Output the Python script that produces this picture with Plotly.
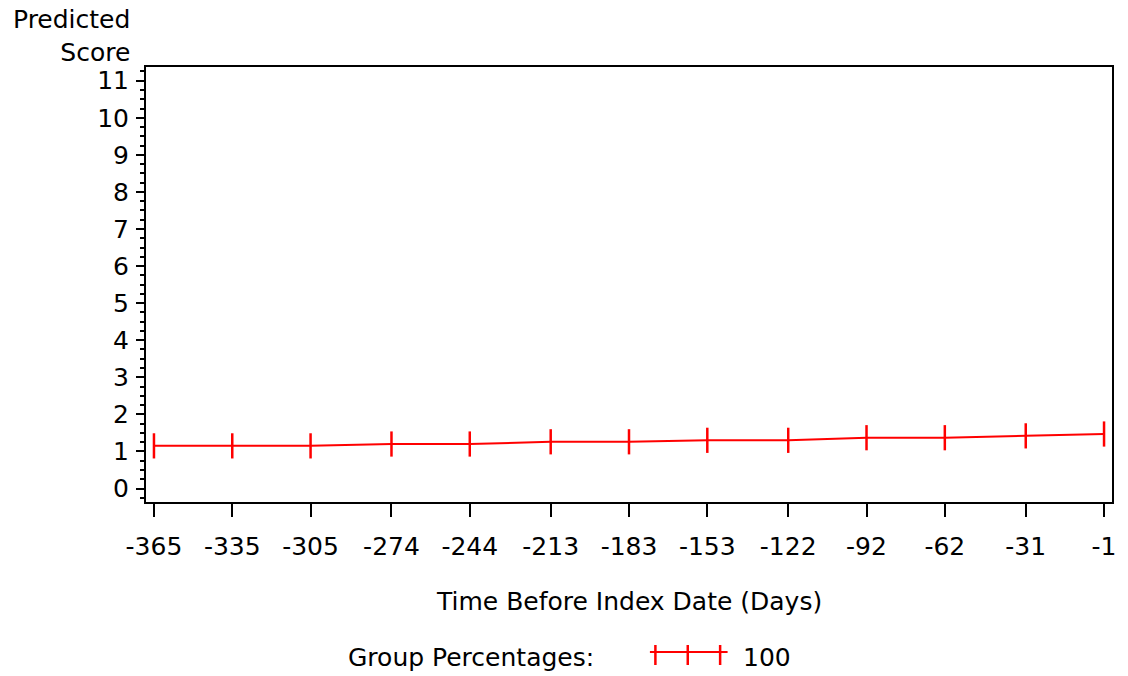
import plotly.graph_objects as go

days = [-365, -335, -305, -274, -244, -213, -183, -153, -122, -92, -62, -31, -1]
tick_labels = [str(d) for d in days]
scores = [1.15, 1.15, 1.15, 1.20, 1.20, 1.26, 1.26, 1.30, 1.30, 1.37, 1.37, 1.42, 1.47]
y_ticks = list(range(0, 12))
group_label = "100"

FONT = "DejaVu Sans"
RED = "#FF0000"

fig = go.Figure()
fig.add_trace(go.Scatter(
    x=days, y=scores, mode="lines+markers",
    line=dict(color=RED, width=2),
    marker=dict(symbol="line-ns", size=18, line=dict(color=RED, width=2.5), color=RED),
    name=group_label, showlegend=False,
))

axis_common = dict(showline=True, linecolor="black", linewidth=2, mirror=True,
                   showgrid=False, zeroline=False, ticks="outside", tickcolor="black",
                   tickfont=dict(family=FONT, size=25, color="black"))

fig.update_xaxes(range=[-368.05, 2.05], tickvals=days, ticktext=tick_labels,
                 ticklen=13, tickwidth=2, ticklabelstandoff=8, **axis_common)
fig.update_yaxes(range=[-0.364, 11.37], tickvals=y_ticks, ticklen=8, tickwidth=2,
                 ticklabelstandoff=2,
                 minor=dict(dtick=0.25, ticks="outside", ticklen=4, tickwidth=1.5, tickcolor="black"),
                 **axis_common)

W, H = 1128, 676
L, R, T, B = 146, 12, 67, 174
pw, ph = W - L - R, H - T - B

def px(x):
    return (x - L) / pw

def py(y):
    return (H - B - y) / ph

ann_font = dict(family=FONT, size=25, color="black")
fig.add_annotation(text="Predicted<br>Score", x=px(132), y=py(3), xref="paper", yref="paper",
                   xanchor="right", yanchor="top", align="right", showarrow=False, font=ann_font)
fig.add_annotation(text="Time Before Index Date (Days)", x=px(631), y=py(601), xref="paper", yref="paper",
                   xanchor="center", yanchor="middle", showarrow=False, font=ann_font)
fig.add_annotation(text="Group Percentages:", x=px(598), y=py(657), xref="paper", yref="paper",
                   xanchor="right", yanchor="middle", showarrow=False, font=ann_font)
fig.add_annotation(text=group_label, x=px(743), y=py(657), xref="paper", yref="paper",
                   xanchor="left", yanchor="middle", showarrow=False, font=ann_font)

# legend sample
fig.add_shape(type="line", xref="paper", yref="paper", x0=px(652), x1=px(730), y0=py(652), y1=py(652),
              line=dict(color=RED, width=2))
for xs in [657.5, 690, 722.5]:
    fig.add_shape(type="line", xref="paper", yref="paper", x0=px(xs), x1=px(xs), y0=py(645), y1=py(665),
                  line=dict(color=RED, width=2.5))

fig.update_layout(width=W, height=H, margin=dict(l=L, r=R, t=T, b=B),
                  plot_bgcolor="white", paper_bgcolor="white",
                  font=dict(family=FONT, color="black"))

fig.write_html("out.html")
